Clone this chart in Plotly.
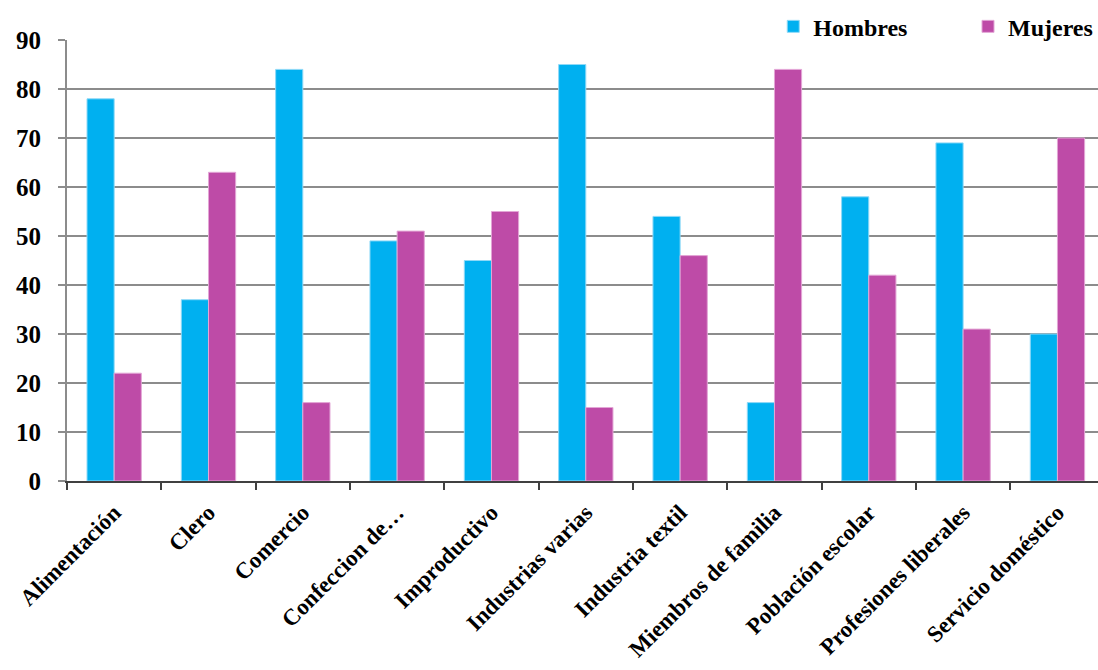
import plotly.graph_objects as go

categorias = ["Alimentación", "Clero", "Comercio", "Confeccion de…", "Improductivo",
              "Industrias varias", "Industria textil", "Miembros de familia",
              "Población escolar", "Profesiones liberales", "Servicio doméstico"]
hombres = [78, 37, 84, 49, 45, 85, 54, 16, 58, 69, 30]
mujeres = [22, 63, 16, 51, 55, 15, 46, 84, 42, 31, 70]
y_ticks = [0, 10, 20, 30, 40, 50, 60, 70, 80, 90]

FONT = "Liberation Serif"

fig = go.Figure()
fig.add_trace(go.Bar(name="Hombres", x=categorias, y=hombres, legend="legend",
                     showlegend=True,
                     marker=dict(color="#00B0F0", line=dict(color="#8FD9F7", width=1))))
fig.add_trace(go.Bar(name="Mujeres", x=categorias, y=mujeres, legend="legend2",
                     showlegend=True,
                     marker=dict(color="#BE4BA7", line=dict(color="#E3A6D6", width=1))))

legend_style = dict(orientation="h", yanchor="middle", y=1.03,
                    font=dict(family=FONT, size=24, weight="bold", color="black"),
                    itemwidth=30, bgcolor="rgba(0,0,0,0)")

fig.update_layout(
    width=1098, height=670,
    showlegend=True,
    margin=dict(l=67, r=0, t=40, b=189),
    paper_bgcolor="white", plot_bgcolor="white",
    barmode="group", bargap=0.424, bargroupgap=0,
    font=dict(family=FONT, color="black"),
    legend=dict(x=0.685, xanchor="left", **legend_style),
    legend2=dict(x=1.0, xanchor="right", **legend_style),
)
fig.update_xaxes(
    range=[-0.5, 10.43],
    tickangle=-45,
    tickfont=dict(family=FONT, size=23, weight="bold"),
    ticks="outside", tickson="boundaries", ticklen=7, tickwidth=2, tickcolor="#404040",
    ticklabelstandoff=7,
    showline=True, linecolor="#404040", linewidth=2,
    showgrid=False,
)
fig.update_yaxes(
    range=[0, 90], tickvals=y_ticks,
    tickfont=dict(family=FONT, size=25, weight="bold"),
    ticks="outside", ticklen=7, tickwidth=2, tickcolor="#8C8C8C",
    ticklabelstandoff=12,
    showline=True, linecolor="#8C8C8C", linewidth=2,
    showgrid=True, gridcolor="#8C8C8C", gridwidth=2,
    zeroline=False,
)

fig.write_html("out.html")
